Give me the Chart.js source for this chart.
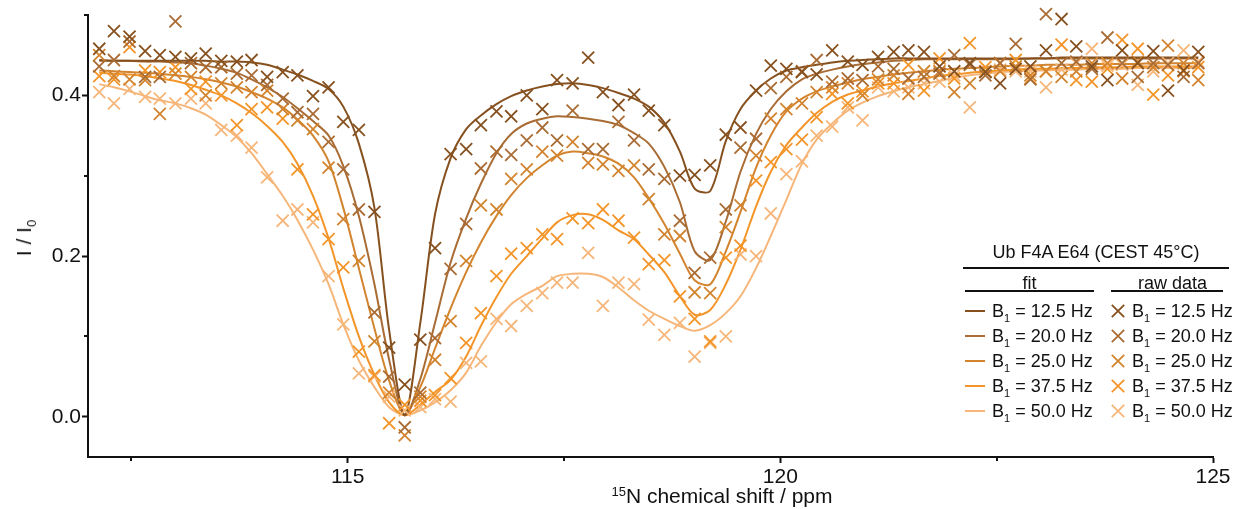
<!DOCTYPE html>
<html>
<head>
<meta charset="utf-8">
<script src="https://cdn.jsdelivr.net/npm/chart.js"></script>
<style>
html,body{margin:0;padding:0;background:#fff;}
#wrap{position:relative;width:1236px;height:509px;overflow:hidden;font-family:"Liberation Sans",Arial,Helvetica,sans-serif;color:#111;}
#c{position:absolute;left:0;top:0;}
.t{position:absolute;white-space:nowrap;}
.hl{position:absolute;height:2px;background:#111;}
</style>
</head>
<body>
<div id="wrap"><canvas id="c" width="1236" height="509"></canvas></div>
<script>
// ---- data ----
const offsetsPpm = [112.13,112.30,112.48,112.66,112.83,113.01,113.19,113.36,113.54,113.72,113.89,114.07,114.25,114.42,114.60,114.78,114.95,115.13,115.31,115.48,115.66,115.84,116.01,116.19,116.37,116.54,116.72,116.89,117.07,117.25,117.42,117.60,117.78,117.95,118.13,118.31,118.48,118.66,118.84,119.01,119.19,119.37,119.54,119.72,119.89,120.07,120.25,120.42,120.60,120.78,120.95,121.13,121.31,121.48,121.66,121.84,122.01,122.19,122.37,122.54,122.72,122.89,123.07,123.25,123.42,123.60,123.78,123.95,124.13,124.31,124.48,124.66,124.83];

const fit12_5 = [0.444,0.443,0.443,0.443,0.443,0.443,0.443,0.443,0.442,0.442,0.441,0.438,0.432,0.426,0.418,0.408,0.386,0.340,0.260,0.108,0.002,0.117,0.252,0.322,0.358,0.375,0.389,0.399,0.406,0.411,0.414,0.415,0.413,0.409,0.403,0.396,0.386,0.366,0.330,0.284,0.281,0.343,0.383,0.406,0.421,0.431,0.435,0.438,0.441,0.443,0.444,0.445,0.446,0.446,0.446,0.446,0.446,0.446,0.446,0.446,0.446,0.446,0.446,0.447,0.447,0.447,0.447,0.447,0.447,0.447,0.447,0.447,0.447];
const fit20_0 = [0.443,0.443,0.443,0.442,0.442,0.441,0.440,0.437,0.433,0.428,0.420,0.410,0.398,0.384,0.368,0.350,0.312,0.250,0.165,0.071,0.002,0.047,0.117,0.192,0.247,0.290,0.328,0.352,0.365,0.371,0.374,0.373,0.371,0.368,0.363,0.353,0.340,0.311,0.267,0.206,0.195,0.243,0.305,0.352,0.383,0.405,0.420,0.427,0.432,0.436,0.439,0.441,0.443,0.444,0.445,0.445,0.445,0.445,0.445,0.445,0.445,0.446,0.446,0.446,0.446,0.446,0.446,0.446,0.446,0.446,0.446,0.446,0.446];
const fit25_0 = [0.431,0.430,0.429,0.428,0.427,0.425,0.423,0.420,0.416,0.411,0.404,0.396,0.385,0.370,0.350,0.318,0.260,0.185,0.110,0.045,0.003,0.037,0.085,0.135,0.180,0.217,0.250,0.276,0.297,0.313,0.325,0.330,0.328,0.324,0.315,0.298,0.272,0.240,0.203,0.170,0.165,0.206,0.255,0.310,0.350,0.380,0.396,0.405,0.411,0.416,0.420,0.423,0.426,0.428,0.430,0.432,0.433,0.434,0.435,0.436,0.437,0.437,0.438,0.438,0.438,0.439,0.439,0.439,0.439,0.440,0.440,0.440,0.440];
const fit37_5 = [0.428,0.427,0.426,0.424,0.421,0.418,0.413,0.407,0.400,0.390,0.378,0.362,0.342,0.315,0.275,0.222,0.160,0.100,0.052,0.018,0.002,0.015,0.031,0.046,0.075,0.113,0.149,0.178,0.200,0.222,0.242,0.251,0.252,0.245,0.232,0.221,0.202,0.180,0.150,0.127,0.133,0.165,0.208,0.262,0.305,0.338,0.360,0.378,0.392,0.401,0.406,0.411,0.415,0.418,0.421,0.424,0.426,0.428,0.430,0.431,0.432,0.433,0.433,0.434,0.434,0.435,0.435,0.435,0.436,0.436,0.436,0.436,0.436];
const fit50_0 = [0.414,0.410,0.405,0.399,0.394,0.390,0.384,0.376,0.363,0.348,0.328,0.302,0.275,0.245,0.208,0.165,0.115,0.070,0.037,0.012,0.002,0.008,0.018,0.033,0.055,0.088,0.118,0.140,0.153,0.163,0.175,0.178,0.178,0.174,0.161,0.145,0.132,0.122,0.113,0.107,0.114,0.129,0.150,0.185,0.225,0.270,0.315,0.345,0.365,0.381,0.391,0.399,0.405,0.410,0.414,0.418,0.422,0.425,0.427,0.429,0.430,0.431,0.431,0.432,0.432,0.433,0.433,0.433,0.434,0.434,0.434,0.434,0.434];

const raw12_5 = [0.458,0.480,0.473,0.455,0.450,0.448,0.446,0.452,0.443,0.442,0.444,0.423,0.429,0.425,0.399,0.410,0.367,0.357,0.255,0.086,0.040,0.096,0.210,0.327,0.333,0.363,0.380,0.374,0.400,0.383,0.419,0.415,0.447,0.404,0.388,0.401,0.381,0.363,0.300,0.301,0.313,0.351,0.360,0.406,0.437,0.433,0.429,0.426,0.456,0.442,0.438,0.448,0.454,0.456,0.454,0.436,0.430,0.440,0.429,0.415,0.433,0.436,0.456,0.495,0.461,0.436,0.419,0.456,0.440,0.455,0.406,0.431,0.454];
const raw20_0 = [0.436,0.444,0.467,0.423,0.423,0.492,0.440,0.435,0.435,0.427,0.425,0.413,0.396,0.379,0.377,0.342,0.308,0.258,0.130,0.050,-0.013,0.030,0.098,0.184,0.240,0.309,0.330,0.326,0.344,0.360,0.344,0.381,0.333,0.333,0.367,0.344,0.308,0.296,0.244,0.179,0.198,0.258,0.335,0.346,0.409,0.423,0.430,0.444,0.417,0.421,0.419,0.436,0.433,0.421,0.423,0.427,0.450,0.438,0.425,0.440,0.464,0.420,0.501,0.440,0.442,0.433,0.472,0.440,0.423,0.440,0.438,0.423,0.440];
const raw25_0 = [0.450,0.424,0.420,0.419,0.377,0.427,0.423,0.400,0.415,0.410,0.404,0.406,0.383,0.369,0.358,0.310,0.246,0.194,0.094,0.030,-0.023,0.025,0.071,0.119,0.194,0.263,0.258,0.296,0.308,0.330,0.325,0.342,0.316,0.314,0.306,0.313,0.271,0.227,0.225,0.155,0.154,0.236,0.263,0.325,0.371,0.383,0.390,0.404,0.410,0.415,0.400,0.420,0.425,0.402,0.430,0.430,0.404,0.415,0.430,0.430,0.436,0.425,0.430,0.423,0.430,0.440,0.440,0.421,0.442,0.435,0.462,0.440,0.419];
const raw37_5 = [0.424,0.420,0.460,0.431,0.429,0.435,0.408,0.417,0.400,0.363,0.383,0.385,0.371,0.308,0.252,0.221,0.186,0.081,0.052,-0.008,0.015,0.020,0.027,0.048,0.092,0.129,0.175,0.203,0.210,0.227,0.221,0.247,0.241,0.258,0.244,0.223,0.190,0.195,0.150,0.122,0.094,0.198,0.213,0.294,0.317,0.333,0.345,0.373,0.402,0.390,0.405,0.415,0.415,0.438,0.406,0.446,0.421,0.465,0.435,0.440,0.444,0.421,0.430,0.463,0.419,0.417,0.433,0.469,0.458,0.401,0.425,0.430,0.435];
const raw50_0 = [0.404,0.390,0.408,0.398,0.396,0.390,0.396,0.390,0.357,0.350,0.335,0.298,0.244,0.258,0.242,0.175,0.115,0.054,0.050,0.025,0.008,0.012,0.022,0.019,0.067,0.069,0.122,0.113,0.138,0.154,0.167,0.167,0.204,0.138,0.167,0.165,0.121,0.102,0.117,0.075,0.092,0.100,0.202,0.200,0.253,0.302,0.318,0.350,0.361,0.385,0.369,0.410,0.405,0.410,0.415,0.417,0.425,0.385,0.430,0.432,0.430,0.430,0.410,0.432,0.440,0.458,0.437,0.438,0.413,0.430,0.440,0.456,0.442];

const b1Labels = ['12.5','20.0','25.0','37.5','50.0'];
const seriesColors = ['#86511f','#a96c34','#d2842f','#f39529','#f6b679'];
const legendTitle = 'Ub F4A E64 (CEST 45°C)';
const legendHeaders = ['fit','raw data'];
const xMajorTicks = [115,120,125];
const yMajorTickLabels = ['0.0','0.2','0.4'];

// ---- chart ----
const FONT = '"Liberation Sans", Arial, Helvetica, sans-serif';
const fits = [fit12_5, fit20_0, fit25_0, fit37_5, fit50_0];
const raws = [raw12_5, raw20_0, raw25_0, raw37_5, raw50_0];
const toPts = arr => offsetsPpm.map((x, j) => ({x: x, y: arr[j]}));

const datasets = [];
raws.forEach((r, i) => datasets.push({
  label: 'raw B1 = ' + b1Labels[i] + ' Hz', data: toPts(r), showLine: false,
  pointStyle: 'crossRot', pointRadius: 8.5, pointBorderWidth: 1.8,
  borderColor: seriesColors[i], backgroundColor: seriesColors[i], clip: false
}));
fits.forEach((f, i) => datasets.push({
  label: 'fit B1 = ' + b1Labels[i] + ' Hz', data: toPts(f), showLine: true,
  pointRadius: 0, borderWidth: 2, tension: 0.3, borderColor: seriesColors[i],
  backgroundColor: seriesColors[i], fill: false
}));

const isMajorX = v => xMajorTicks.some(m => Math.abs(m - v) < 1e-6);
const yLabel = v => { const s = v.toFixed(1); return yMajorTickLabels.includes(s) ? s : ''; };

const minorTicks = {
  id: 'minorTicks',
  afterDraw(chart) {
    const ctx = chart.ctx, xs = chart.scales.x, ys = chart.scales.y, a = chart.chartArea;
    ctx.save(); ctx.strokeStyle = '#111'; ctx.lineWidth = 2;
    xs.ticks.forEach(t => { if (!isMajorX(t.value)) { const p = Math.round(xs.getPixelForValue(t.value)); ctx.beginPath(); ctx.moveTo(p, a.bottom); ctx.lineTo(p, a.bottom + 4); ctx.stroke(); } });
    ys.ticks.forEach(t => { if (yLabel(t.value) === '') { const p = Math.round(ys.getPixelForValue(t.value)); ctx.beginPath(); ctx.moveTo(a.left, p); ctx.lineTo(a.left - 4, p); ctx.stroke(); } });
    ctx.restore();
  }
};

new Chart(document.getElementById('c'), {
  type: 'scatter',
  data: {datasets: datasets},
  plugins: [minorTicks],
  options: {
    responsive: false, animation: false, devicePixelRatio: 1,
    layout: {padding: {left: 0, right: 23, top: 15, bottom: 0}},
    plugins: {legend: {display: false}, tooltip: {enabled: false}},
    scales: {
      x: {
        type: 'linear', min: 112, max: 125,
        afterFit(s) { s.height = 52; },
        border: {display: true, width: 2, color: '#111'},
        grid: {drawOnChartArea: false, drawTicks: true, tickLength: 6, tickWidth: 2,
               tickColor: c => (c.tick && isMajorX(c.tick.value)) ? '#111' : 'rgba(0,0,0,0)'},
        ticks: {stepSize: 2.5, includeBounds: false, autoSkip: false, maxRotation: 0, padding: 2,
                color: '#111', font: {family: FONT, size: 21},
                callback: v => isMajorX(v) ? String(Math.round(v)) : ''}
      },
      y: {
        type: 'linear', min: -0.05, max: 0.5,
        afterFit(s) { s.width = 88; },
        border: {display: true, width: 2, color: '#111'},
        grid: {drawOnChartArea: false, drawTicks: true, tickLength: 6, tickWidth: 2,
               tickColor: c => (c.tick && yLabel(c.tick.value) !== '') ? '#111' : 'rgba(0,0,0,0)'},
        ticks: {stepSize: 0.1, includeBounds: false, autoSkip: false, padding: 1,
                color: '#111', font: {family: FONT, size: 21},
                callback: v => yLabel(v)}
      }
    }
  }
});

// ---- text overlays (axis titles, legend) ----
const wrap = document.getElementById('wrap');
function addText(html, x, capY, size, center) {
  const d = document.createElement('div');
  d.className = 't';
  d.style.fontSize = size + 'px'; d.style.lineHeight = size + 'px';
  d.innerHTML = html;
  d.style.top = (capY - 0.4885 * size) + 'px';
  d.style.left = x + 'px';
  if (center) d.style.transform = 'translateX(-50%)';
  wrap.appendChild(d);
  return d;
}
function addRule(x1, x2, y) {
  const d = document.createElement('div'); d.className = 'hl';
  d.style.left = x1 + 'px'; d.style.width = (x2 - x1) + 'px'; d.style.top = (y - 1) + 'px';
  wrap.appendChild(d);
}
// x title
addText('<span style="font-size:13px;position:relative;top:-7px;">15</span>N chemical shift / ppm', 722, 495.5, 21, true);
// y title
const yt = document.createElement('div');
yt.className = 't';
yt.style.fontSize = '21px'; yt.style.lineHeight = '21px';
yt.innerHTML = 'I / I<span style="font-size:13px;position:relative;top:5px;">0</span>';
yt.style.left = '25px'; yt.style.top = '238px';
yt.style.transform = 'translate(-50%,-50%) rotate(-90deg)';
wrap.appendChild(yt);

// legend
addText(legendTitle, 1096, 251.7, 18, true);
addRule(963, 1229, 268);
addText(legendHeaders[0], 1029.5, 283, 18, true);
addText(legendHeaders[1], 1138, 283, 18, false);
addRule(965, 1094, 291);
addRule(1111, 1223, 291);
const rowY = [310.7, 335.8, 360.9, 386, 411];
const sub1 = 'B<span style="font-size:11px;position:relative;top:5px;">1</span> = ';
b1Labels.forEach((lab, i) => {
  const y = rowY[i];
  const ln = document.createElement('div');
  ln.style.cssText = 'position:absolute;left:965px;width:20px;height:2px;top:' + (y - 1) + 'px;background:' + seriesColors[i] + ';';
  wrap.appendChild(ln);
  addText(sub1 + lab + ' Hz', 992, y, 18, false);
  const s = document.createElementNS('http://www.w3.org/2000/svg', 'svg');
  s.setAttribute('width', '16'); s.setAttribute('height', '16');
  s.style.cssText = 'position:absolute;left:' + (1118.3 - 8) + 'px;top:' + (y - 8) + 'px;';
  s.innerHTML = '<path d="M1.8 1.8 L14.2 14.2 M14.2 1.8 L1.8 14.2" stroke="' + seriesColors[i] + '" stroke-width="1.8" fill="none"/>';
  wrap.appendChild(s);
  addText(sub1 + lab + ' Hz', 1132, y, 18, false);
});
</script>
</body>
</html>
